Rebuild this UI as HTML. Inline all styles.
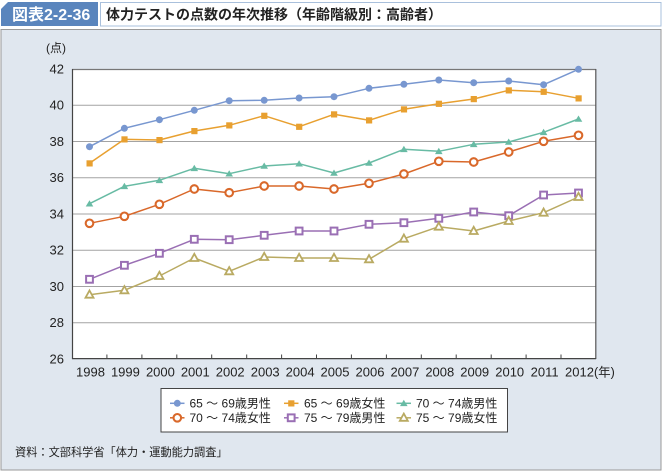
<!DOCTYPE html>
<html><head><meta charset="utf-8"><style>
html,body{margin:0;padding:0;background:#fff;}
svg{display:block;font-family:"Liberation Sans","Noto Sans CJK JP",sans-serif;}
</style></head><body>
<svg width="662" height="472" viewBox="0 0 662 472" xmlns="http://www.w3.org/2000/svg">
<defs>
<marker id="m1" viewBox="0 0 10 10" refX="5" refY="5" markerWidth="10" markerHeight="10" markerUnits="userSpaceOnUse"><circle cx="5" cy="5" r="3.5" fill="#7897d0"/></marker>
<marker id="m2" viewBox="0 0 10 10" refX="5" refY="5" markerWidth="10" markerHeight="10" markerUnits="userSpaceOnUse"><rect x="2" y="2" width="6.2" height="6.2" fill="#e8a030"/></marker>
<marker id="m3" viewBox="0 0 10 10" refX="5" refY="5" markerWidth="10" markerHeight="10" markerUnits="userSpaceOnUse"><polygon points="5,1.5 8.8,7.8 1.2,7.8" fill="#68bba4"/></marker>
<marker id="m4" viewBox="0 0 12 12" refX="6" refY="6" markerWidth="12" markerHeight="12" markerUnits="userSpaceOnUse"><circle cx="6" cy="6" r="3.8" fill="#fff" stroke="#d9682a" stroke-width="2.1"/></marker>
<marker id="m5" viewBox="0 0 12 12" refX="6" refY="6" markerWidth="12" markerHeight="12" markerUnits="userSpaceOnUse"><rect x="2.6" y="2.6" width="6.8" height="6.8" fill="#fff" stroke="#9a6fb4" stroke-width="2"/></marker>
<marker id="m6" viewBox="0 0 12 12" refX="6" refY="6" markerWidth="12" markerHeight="12" markerUnits="userSpaceOnUse"><polygon points="6,1.8 10,9 2,9" fill="#fff" stroke="#b9aa62" stroke-width="1.8" stroke-linejoin="miter"/></marker>
</defs>

<!-- header -->
<polygon points="8,2 98,2 98,26 1,26 1,9" fill="#5a85bd"/>
<text x="12" y="20" font-size="16" font-weight="bold" fill="#fff">図表2-2-36</text>
<rect x="100.5" y="2.5" width="560.5" height="23.5" fill="#fff" stroke="#a9c0dc" stroke-width="1"/>
<text x="106" y="19.5" font-size="14" font-weight="bold" fill="#222">体力テストの点数の年次推移（年齢階級別：高齢者）</text>

<!-- panel -->
<rect x="1" y="29.5" width="660" height="440.5" fill="#e0e7ef" stroke="#9a9a9a" stroke-width="1"/>

<!-- plot area -->
<rect x="72" y="69" width="524" height="290" fill="#fff"/>
<g stroke="#a3a3a3" stroke-width="1">
<line x1="72" y1="105.25" x2="596" y2="105.25"/>
<line x1="72" y1="141.5" x2="596" y2="141.5"/>
<line x1="72" y1="177.75" x2="596" y2="177.75"/>
<line x1="72" y1="214" x2="596" y2="214"/>
<line x1="72" y1="250.25" x2="596" y2="250.25"/>
<line x1="72" y1="286.5" x2="596" y2="286.5"/>
<line x1="72" y1="322.75" x2="596" y2="322.75"/>
</g>
<line x1="72" y1="69.5" x2="596" y2="69.5" stroke="#777" stroke-width="1.2"/>
<line x1="595.8" y1="69" x2="595.8" y2="359" stroke="#555" stroke-width="1.2"/>
<line x1="72.5" y1="69" x2="72.5" y2="359" stroke="#444" stroke-width="1.2"/>
<line x1="72" y1="358.6" x2="596" y2="358.6" stroke="#444" stroke-width="1.2"/>
<g stroke="#444" stroke-width="1">
<line x1="106.9" y1="354.5" x2="106.9" y2="359"/>
<line x1="141.9" y1="354.5" x2="141.9" y2="359"/>
<line x1="176.8" y1="354.5" x2="176.8" y2="359"/>
<line x1="211.7" y1="354.5" x2="211.7" y2="359"/>
<line x1="246.7" y1="354.5" x2="246.7" y2="359"/>
<line x1="281.6" y1="354.5" x2="281.6" y2="359"/>
<line x1="316.5" y1="354.5" x2="316.5" y2="359"/>
<line x1="351.4" y1="354.5" x2="351.4" y2="359"/>
<line x1="386.4" y1="354.5" x2="386.4" y2="359"/>
<line x1="421.3" y1="354.5" x2="421.3" y2="359"/>
<line x1="456.2" y1="354.5" x2="456.2" y2="359"/>
<line x1="491.2" y1="354.5" x2="491.2" y2="359"/>
<line x1="526.1" y1="354.5" x2="526.1" y2="359"/>
<line x1="561" y1="354.5" x2="561" y2="359"/>
</g>

<!-- y labels -->
<g font-size="13" fill="#222" text-anchor="end">
<text x="64" y="73.5">42</text>
<text x="64" y="109.7">40</text>
<text x="64" y="146">38</text>
<text x="64" y="182.2">36</text>
<text x="64" y="218.5">34</text>
<text x="64" y="254.7">32</text>
<text x="64" y="291">30</text>
<text x="64" y="327.2">28</text>
<text x="64" y="363.5">26</text>
</g>
<text x="46" y="52" font-size="12" fill="#222">(点)</text>

<!-- x labels -->
<g font-size="13" fill="#222" text-anchor="middle">
<text x="90.5" y="376.5">1998</text>
<text x="125.4" y="376.5">1999</text>
<text x="160.4" y="376.5">2000</text>
<text x="195.3" y="376.5">2001</text>
<text x="230.2" y="376.5">2002</text>
<text x="265.2" y="376.5">2003</text>
<text x="300.1" y="376.5">2004</text>
<text x="335" y="376.5">2005</text>
<text x="370" y="376.5">2006</text>
<text x="404.9" y="376.5">2007</text>
<text x="439.8" y="376.5">2008</text>
<text x="474.7" y="376.5">2009</text>
<text x="509.7" y="376.5">2010</text>
<text x="544.6" y="376.5">2011</text>
<text x="579.5" y="376.5">2012</text>
</g>
<text x="594" y="376.5" font-size="12.5" fill="#222">(年)</text>

<!-- series -->
<g fill="none" stroke-width="1.5" stroke-linejoin="round">
<polyline stroke="#7897d0" marker-start="url(#m1)" marker-mid="url(#m1)" marker-end="url(#m1)" points="89.5,146.7 124.4,128.3 159.4,119.7 194.3,110.3 229.2,100.7 264.2,100.3 299.1,98 334,96.7 369,88.3 403.9,84.3 438.8,80 473.7,82.7 508.7,81 543.6,84.7 578.5,69.3"/>
<polyline stroke="#e8a030" marker-start="url(#m2)" marker-mid="url(#m2)" marker-end="url(#m2)" points="89.5,163.3 124.4,139.3 159.4,140 194.3,131 229.2,125.3 264.2,115.7 299.1,126.7 334,114.3 369,120.3 403.9,109.3 438.8,103.7 473.7,99 508.7,90.3 543.6,91.7 578.5,98.3"/>
<polyline stroke="#68bba4" marker-start="url(#m3)" marker-mid="url(#m3)" marker-end="url(#m3)" points="89.5,203.7 124.4,186.3 159.4,180.3 194.3,168.3 229.2,173.7 264.2,166 299.1,163.7 334,173 369,163 403.9,149.3 438.8,151.3 473.7,144.3 508.7,142 543.6,132.3 578.5,119"/>
<polyline stroke="#d9682a" marker-start="url(#m4)" marker-mid="url(#m4)" marker-end="url(#m4)" points="89.5,223.3 124.4,216.3 159.4,204.3 194.3,189 229.2,192.7 264.2,186 299.1,186 334,189 369,183.3 403.9,174 438.8,161.3 473.7,162 508.7,152 543.6,141.3 578.5,135.3"/>
<polyline stroke="#9a6fb4" marker-start="url(#m5)" marker-mid="url(#m5)" marker-end="url(#m5)" points="89.5,279.3 124.4,265.3 159.4,253.3 194.3,239.3 229.2,239.7 264.2,235.3 299.1,231 334,231 369,224.3 403.9,222.7 438.8,218.3 473.7,212 508.7,215.7 543.6,195 578.5,193"/>
<polyline stroke="#b9aa62" marker-start="url(#m6)" marker-mid="url(#m6)" marker-end="url(#m6)" points="89.5,294.7 124.4,290.3 159.4,276 194.3,258 229.2,271.3 264.2,257 299.1,258 334,258 369,259.3 403.9,238.7 438.8,226.7 473.7,231 508.7,221 543.6,212.7 578.5,197"/>
</g>

<!-- legend -->
<rect x="161" y="388.5" width="346.5" height="43.5" fill="#fff" stroke="#444" stroke-width="1"/>
<g fill="none" stroke-width="1.5">
<polyline stroke="#7897d0" marker-mid="url(#m1)" points="170,403.3 177.3,403.3 184.5,403.3"/>
<polyline stroke="#e8a030" marker-mid="url(#m2)" points="284,403.3 291.2,403.3 298.5,403.3"/>
<polyline stroke="#68bba4" marker-mid="url(#m3)" points="396.5,403.3 403.8,403.3 411,403.3"/>
<polyline stroke="#d9682a" marker-mid="url(#m4)" points="170,417.8 177.3,417.8 184.5,417.8"/>
<polyline stroke="#9a6fb4" marker-mid="url(#m5)" points="284,417.8 291.2,417.8 298.5,417.8"/>
<polyline stroke="#b9aa62" marker-mid="url(#m6)" points="396.5,417.8 403.8,417.8 411,417.8"/>
</g>
<g font-size="12" fill="#222">
<text x="189.5" y="407.5">65 ～ 69歳男性</text>
<text x="304" y="407.5">65 ～ 69歳女性</text>
<text x="416" y="407.5">70 ～ 74歳男性</text>
<text x="189.5" y="422">70 ～ 74歳女性</text>
<text x="304" y="422">75 ～ 79歳男性</text>
<text x="416" y="422">75 ～ 79歳女性</text>
</g>

<!-- footer -->
<text x="15" y="456" font-size="11.2" fill="#222">資料：文部科学省「体力・運動能力調査」</text>
</svg>
</body></html>
